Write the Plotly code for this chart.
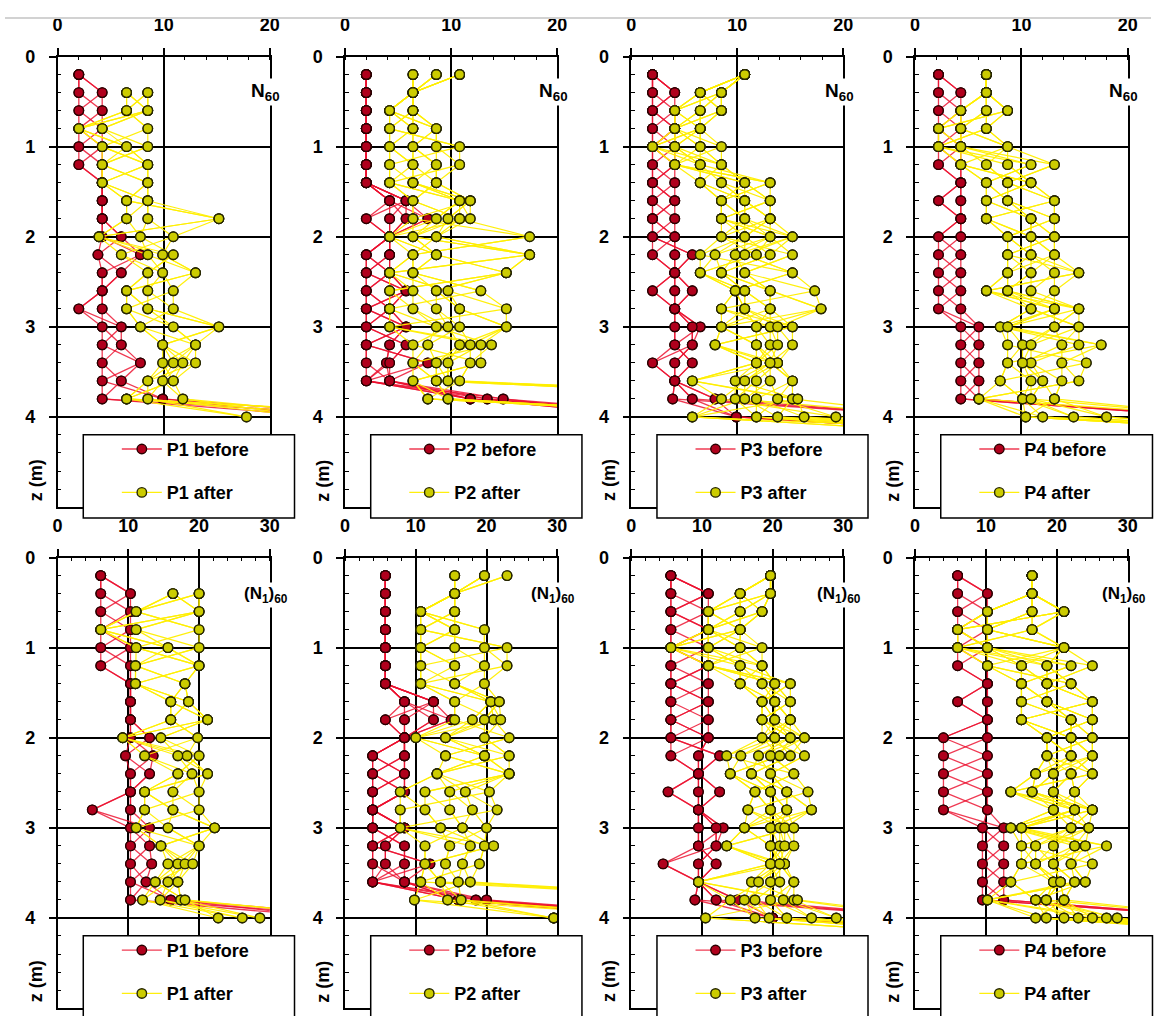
import plotly.graph_objects as go

W, H = 1161, 1016

# Test depths (m); readings below are listed per depth, in this order
depth_m = [0.2, 0.4, 0.6, 0.8, 1.0, 1.2, 1.4, 1.6, 1.8, 2.0,
           2.2, 2.4, 2.6, 2.8, 3.0, 3.2, 3.4, 3.6, 3.8, 4.0, 4.2]

# ---------------- N60 ----------------
p1_n60_before = [[2], [2, 4.2], [2, 4.2], [2, 4.2], [2, 4.2], [2, 4.2], [4.2], [4.2], [4.2],
                 [4.2, 6], [3.8, 7.8], [4.2, 6], [4.2], [2, 4.2], [4.2, 6], [4.2, 6], [4.2, 7.8],
                 [4.2, 6], [4.2, 9.9], [26, 32], []]
p1_n60_after = [[], [6.5, 8.5], [6.5, 8.5], [2, 4.2, 8.5], [4.2, 6.5, 8.5], [4.2, 8.5], [4.2, 8.5],
                [6.5, 8.5], [6.5, 8.5, 15.2], [3.9, 7.8, 10.9], [6, 8.5, 9.9, 10.9], [8.5, 9.9, 13],
                [6.5, 8.5, 10.9], [6.5, 8.5, 10.9], [7.8, 10.9, 15.2], [9.9, 13], [9.9, 10.9, 11.8, 13],
                [8.5, 9.9, 10.9], [6.5, 8.5, 11.8], [17.8, 24, 30, 38], []]

p2_n60_before = [[2], [2], [2], [2], [2], [2], [2], [4.2, 5.75], [2, 4.2, 5.75, 7.8], [4.2],
                 [2, 4.2], [2, 4.2], [2, 5.75], [2, 4.2], [2, 5.75], [2, 4.2, 5.75], [2, 3.9, 4.2, 7.8],
                 [2, 4.2], [11.8, 13.4, 14.9], [30, 36], []]
p2_n60_after = [[6.4, 8.6, 10.8], [6.4], [4.2, 6.4], [4.2, 6.4, 8.6], [4.2, 6.4, 8.6, 10.8],
                [4.2, 6.4, 8.6, 10.8], [4.2, 6.4, 8.6], [6.4, 10.8, 11.8], [6.4, 8.6, 9.7, 10.8, 11.8],
                [4.2, 6.4, 8.6, 17.4], [6.4, 8.6, 17.4], [4.2, 6.4, 15.2], [4.2, 6.4, 8.6, 9.7, 12.8],
                [4.2, 6.4, 8.6, 10.8, 15.2], [4.2, 8.6, 9.7, 10.8, 15.2],
                [6.4, 7.8, 10.8, 11.8, 12.8, 13.8], [6.4, 8.6, 9.7, 11.8, 12.8], [6.4, 8.6, 9.7, 10.8],
                [7.8, 9.7, 45, 50], [40], []]

p3_n60_before = [[2], [2, 4.1], [2, 4.1], [2, 4.1], [2, 4.1], [2, 4.1], [2, 4.1], [2, 4.1], [2, 4.1],
                 [2, 4.1], [2, 4.1, 5.75], [4.1], [2, 4.1, 5.75], [4.1], [4.1, 5.75, 6.5], [4.1, 5.75],
                 [2, 4.1, 5.75], [4.1], [3.9, 5.75, 7.9], [9.9, 30], [38]]
p3_n60_after = [[10.7], [6.5, 8.5], [4.1, 6.5, 8.5], [4.1, 6.5], [2, 4.1, 6.5, 8.5], [4.1, 6.5, 8.5],
                [6.5, 8.5, 10.7, 13.1], [8.5, 10.7, 13.1], [8.5, 10.7, 13.1], [8.5, 10.7, 13.1, 15.2],
                [6.5, 7.9, 9.8, 10.7, 11.8, 13.1, 15.2], [6.5, 8.5, 10.7, 15.2], [9.8, 10.7, 13.1, 17.3],
                [8.5, 10.7, 13.1, 17.9], [8.5, 11.8, 13.1, 13.8, 15.2], [7.9, 11.8, 13.1, 13.8, 15.2],
                [11.8, 13.1, 13.8], [5.75, 9.8, 10.7, 11.8, 13.1, 15.2],
                [8.5, 9.8, 10.7, 11.8, 13.8, 15.2, 15.7], [5.75, 11.8, 13.8, 16.3, 19.3, 30], [35, 45]]

p4_n60_before = [[2.2], [2.2, 4.3], [2.2, 4.3], [2.2, 4.3], [2.2, 4.3], [2.2, 4.3], [4.3], [2.2, 4.3],
                 [4.3], [2.2, 4.3], [2.2, 4.3], [2.2, 4.3], [2.2, 4.3], [2.2, 4.3], [4.3, 6], [4.3, 6],
                 [4.3, 6], [4.3, 6], [4.3, 6], [28], [34]]
p4_n60_after = [[6.7], [6.7], [4.3, 6.7, 8.7], [2.2, 4.3, 6.7], [2.2, 4.3, 8.7],
                [4.3, 6.7, 8.7, 10.9, 13.1], [6.7, 8.7, 10.9], [6.7, 8.7, 13.1], [6.7, 10.9, 13.1],
                [8.7, 10.9, 13.1], [8.7, 10.9, 13.1], [8.7, 10.9, 13.1, 15.4], [6.7, 8.7, 10.9, 13.1],
                [10.9, 13.1, 15.4], [8, 8.7, 13.1, 15.4], [8.7, 10.1, 10.9, 13.8, 15.4, 17.5],
                [8.7, 10.1, 10.9, 13.8, 16.1], [8, 10.9, 12, 13.8, 15.4], [6, 10.1, 10.9, 13.1],
                [10.4, 12, 14.9, 18, 30], [40]]

# ---------------- (N1)60 ----------------
p1_n160_before = [[6.1], [6.1, 10.3], [6.1, 10.3], [6.1, 10.3], [6.1, 10.3], [6.1, 10.3], [10.3],
                  [10.3], [10.3], [10.3, 13], [9.6, 13.5], [10.3, 13], [10.3], [4.9, 10.3], [10.3, 13],
                  [10.3, 13], [10.3, 13.3], [10.3, 12.5], [10.3, 16], [40, 48], []]
p1_n160_after = [[], [16.3, 20], [11.1, 20], [6.1, 11.1, 20], [11.1, 15.6, 20], [11, 20], [11, 18],
                 [16, 18.5], [16, 21.2], [9.2, 14.6, 19.8], [12.3, 17, 18.3, 20], [17, 19, 21.2],
                 [12.3, 16.3, 20], [12.3, 16.3, 20], [11.1, 15.6, 22.2], [14.6, 20],
                 [15.6, 17, 18, 19.1], [13.8, 15.6, 17], [12, 14.5, 17.4, 18], [22.7, 26.1, 28.6, 45], []]

p2_n160_before = [[5.7], [5.7], [5.7], [5.7], [5.7], [5.7], [5.7], [8.4, 12.5], [5.7, 8.4, 12.5, 15],
                  [8.4], [3.9, 8.4], [3.9, 8.4], [3.9, 8.4], [3.9], [3.9, 8.4], [3.9, 5.7, 8.4],
                  [3.9, 5.7, 8.4, 12], [3.9, 8.4], [16, 18.5, 20], [45, 55], []]
p2_n160_after = [[15.5, 19.7, 22.9], [15.5], [10.7, 15.5], [10.7, 15.5, 19.7], [10.7, 15.5, 19.7, 22.9],
                 [10.7, 15.5, 19.7, 22.9], [10.7, 15.5, 19.7], [15.5, 20.6, 21.8],
                 [15.5, 18, 19.7, 21, 22], [10, 14.2, 19.7, 23.2], [14.2, 19.7, 23.2], [13, 23.2],
                 [7.8, 11.3, 14.8, 17, 20.4], [7.8, 11.3, 14.8, 18, 21.5], [7.8, 13.5, 16.6, 20],
                 [11.3, 14.8, 17.7, 19.7, 21], [11.3, 14.2, 16.6, 19], [10.7, 13.5, 16, 17.7],
                 [9.8, 14.5, 16.4, 60, 60], [29.5, 50], []]

p3_n160_before = [[5.6], [5.6, 10.9], [5.6, 10.9], [5.6, 10.9], [5.6, 10.9], [5.6, 10.9], [5.6, 10.9],
                  [5.6, 10.9], [5.6, 10.9], [5.6, 10.9], [5.6, 9.5, 12.5], [9.5], [5.2, 9.5, 12.5],
                  [9.5], [9.5, 12, 13], [9.5, 12], [4.5, 9.5, 12], [9.5], [9, 12, 15], [20, 45], [55]]
p3_n160_after = [[19.7], [15.4, 19.7], [10.9, 15.4, 18.5], [10.9, 15.4], [5.6, 10.9, 15.4, 18.5],
                 [10.9, 15.4, 18.5], [15.4, 18.5, 20.3, 22.5], [18.5, 20.3, 22.5], [18.5, 20.3, 22.5],
                 [18.5, 20.3, 22.5, 24.5], [13.5, 15.5, 18, 19.7, 21, 22.5, 24.5], [14, 17, 19.7, 23],
                 [17.5, 19.7, 22, 25], [16.5, 19.7, 22, 25.5], [16, 19.7, 21, 21.7, 23],
                 [13.5, 19.7, 21, 21.7, 23], [19.7, 21, 21.7], [9.5, 17, 18, 19.7, 21, 23],
                 [14, 16, 17.5, 19.7, 21.5, 23, 23.5], [10.5, 17.5, 19.5, 22, 25.5, 29, 45], [50, 60]]

p4_n160_before = [[6], [6, 10.2], [6, 10.2], [6, 10.2], [6, 10.2], [6, 10.2], [10.2], [6, 10.2],
                  [10.2], [4, 10.2], [4, 10.2], [4, 10.2], [4, 10.2], [4, 10.2], [9.5, 12.5],
                  [9.5, 12.5], [9.5, 12.5], [9.5, 12.5], [9.5, 12.5], [45], [55]]
p4_n160_after = [[16.5], [16.5], [10.2, 16.5, 21], [6, 10.2, 16.5], [6, 10.2, 21],
                 [10.2, 15, 18.6, 22, 25], [15, 18.6, 22], [15, 18.6, 25], [15, 22, 25],
                 [18.6, 22, 25], [18.6, 22, 25], [17, 19.5, 22, 25], [13.5, 16.5, 19.5, 22.5],
                 [19.5, 22.5, 25], [13.5, 15, 22, 24.5], [15, 17, 19.5, 22.5, 24, 27],
                 [15, 17, 19.5, 22, 25], [13.5, 19.5, 20.5, 22.5, 24], [10.2, 17, 18.5, 21],
                 [17, 18.5, 21, 23, 25, 27, 28.5, 45], [55]]

site_names = ["P1", "P2", "P3", "P4"]
x_max = [20, 30]
x_ticks = [[0, 10, 20], [0, 10, 20, 30]]
z_ticks = [0, 1, 2, 3, 4]
row_labels = ["N<sub>60</sub>", "(N<sub>1</sub>)<sub>60</sub>"]

rows = [
    [(p1_n60_before, p1_n60_after), (p2_n60_before, p2_n60_after),
     (p3_n60_before, p3_n60_after), (p4_n60_before, p4_n60_after)],
    [(p1_n160_before, p1_n160_after), (p2_n160_before, p2_n160_after),
     (p3_n160_before, p3_n160_after), (p4_n160_before, p4_n160_after)],
]

# panel frame in pixels
col_px = [(53.3, 268.3), (344.5, 559.5), (634.5, 849.3), (922.0, 1137.5)]
row_top_px = [47, 553]
row_h_px = 455

FONT = "Liberation Sans, Arial, sans-serif"


def fx(p):
    return p / W


def fy(p):
    return 1 - p / H


def borehole_lines(readings):
    """Join the readings of each depth into continuous borehole traces."""
    n_prof = max(len(v) for v in readings)
    xs, zs = [], []
    for zigzag in (False, True):
        for k in range(n_prof):
            for i, (z, vals) in enumerate(zip(depth_m, readings)):
                if not vals:
                    continue
                j = (k + i) % len(vals) if zigzag else k % len(vals)
                xs.append(vals[j])
                zs.append(z)
            xs.append(None)
            zs.append(None)
    return xs, zs


fig = go.Figure()
layout = dict(
    width=W, height=H, margin=dict(l=0, r=0, t=0, b=0),
    paper_bgcolor="white", plot_bgcolor="white",
    font=dict(family=FONT, color="black"),
    showlegend=True,
)
shapes = [dict(type="line", xref="paper", yref="paper", x0=0, x1=1,
               y0=fy(8), y1=fy(8), line=dict(color="#d2d2d2", width=2))]
annotations = []

for r in range(2):
    top = row_top_px[r]
    for c in range(4):
        idx = r * 4 + c + 1
        xa = "x" if idx == 1 else f"x{idx}"
        ya = "y" if idx == 1 else f"y{idx}"
        leg = "legend" if idx == 1 else f"legend{idx}"
        before, after = rows[r][c]
        site = site_names[c]

        bx, bz = borehole_lines(before)
        ax_, az = borehole_lines(after)
        fig.add_trace(go.Scatter(
            x=bx, y=bz, xaxis=xa, yaxis=ya, mode="lines+markers",
            name=f"{site} before", legend=leg, legendgroup=f"b{idx}",
            line=dict(color="rgba(235,15,45,0.82)", width=1.3),
            marker=dict(size=9.5, color="#b0001c", line=dict(color="#2a0000", width=1.4)),
            hoverinfo="skip"))
        fig.add_trace(go.Scatter(
            x=ax_, y=az, xaxis=xa, yaxis=ya, mode="lines+markers",
            name=f"{site} after", legend=leg, legendgroup=f"a{idx}",
            line=dict(color="rgba(255,238,0,0.95)", width=1.2),
            marker=dict(size=9.5, color="#cccc00", line=dict(color="#262600", width=1.4)),
            hoverinfo="skip"))

        x0, x1 = col_px[c]
        layout["xaxis" if idx == 1 else f"xaxis{idx}"] = dict(
            domain=[fx(x0), fx(x1)], range=[0, x_max[r]], anchor=ya, side="top",
            tickmode="array", tickvals=x_ticks[r],
            ticks="outside", ticklen=7, tickwidth=1.5, tickcolor="black",
            ticklabelstandoff=10,
            tickfont=dict(family=FONT, size=18, color="black", weight="bold"),
            showline=True, linewidth=1.5, linecolor="black", mirror=True,
            showgrid=True, gridcolor="black", gridwidth=1.5, zeroline=False,
            minor=dict(tickmode="linear", tick0=0, dtick=2, ticks="inside", ticklen=4,
                       tickwidth=1, tickcolor="black", showgrid=False),
            fixedrange=True)
        layout["yaxis" if idx == 1 else f"yaxis{idx}"] = dict(
            domain=[fy(top + row_h_px), fy(top)], range=[5, 0], anchor=xa,
            tickmode="array", tickvals=z_ticks,
            ticks="outside", ticklen=7, tickwidth=1.5, tickcolor="black",
            ticklabelstandoff=10,
            tickfont=dict(family=FONT, size=18, color="black", weight="bold"),
            showline=True, linewidth=1.5, linecolor="black", mirror=True,
            showgrid=True, gridcolor="black", gridwidth=1.5, zeroline=False,
            minor=dict(tickmode="linear", tick0=0, dtick=0.2, ticks="inside", ticklen=4,
                       tickwidth=1, tickcolor="black", showgrid=False),
            fixedrange=True)

        # legend frame
        box_top = top + 382
        shapes.append(dict(type="rect", xref="paper", yref="paper", layer="above",
                           x0=fx(x0 + 26), x1=fx(x1 + 25), y0=fy(box_top + 84), y1=fy(box_top),
                           fillcolor="white", line=dict(color="black", width=1.5)))
        layout[leg] = dict(
            x=fx(x0 + 60), y=fy(box_top - 4), xanchor="left", yanchor="top",
            bgcolor="rgba(0,0,0,0)", borderwidth=0, traceorder="grouped",
            tracegroupgap=17, itemwidth=40,
            font=dict(family=FONT, size=18, color="black", weight="bold"))

        # parameter label
        annotations.append(dict(
            xref="paper", yref="paper", x=fx(x1 - 4), y=fy(top + 36 + (2 if r else 0)),
            text=row_labels[r], showarrow=False, bgcolor="white",
            font=dict(family=FONT, size=19 if r == 0 else 17, color="black", weight="bold"),
            xanchor="center", yanchor="middle"))
        # depth axis title
        annotations.append(dict(
            xref="paper", yref="paper", x=fx(x0 - 22), y=fy(top + 428),
            text="z (m)", textangle=-90, showarrow=False,
            font=dict(family=FONT, size=18, color="black", weight="bold"),
            xanchor="center", yanchor="middle"))

layout["shapes"] = shapes
layout["annotations"] = annotations
fig.update_layout(**layout)

fig.write_html("out.html")
